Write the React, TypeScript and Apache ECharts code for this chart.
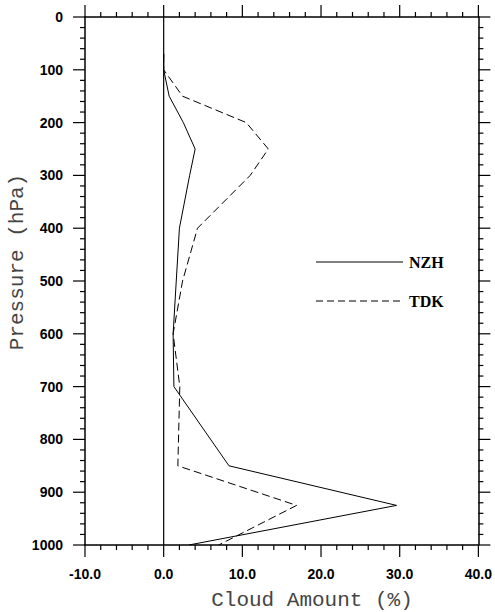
import React, { useEffect, useRef } from "react";
import * as echarts from "echarts";

const pressureLevels = [70, 100, 150, 200, 250, 300, 400, 500, 600, 700, 850, 925, 1000];
const nzhValues = [0, 0, 0.7, 2.5, 4.0, 3.3, 2.0, 1.6, 1.2, 1.3, 8.3, 29.6, 3.2];
const tdkValues = [0, 0, 2.4, 10.5, 13.3, 11.0, 4.3, 2.4, 1.2, 2.05, 1.8, 16.9, 7.0];
const zeroLineX = [0, 0];
const zeroLineP = [0, 1000];
const xMajorTicks = [-10, 0, 10, 20, 30, 40];
const yMajorTicks = [0, 100, 200, 300, 400, 500, 600, 700, 800, 900, 1000];
const seriesNames = ["NZH", "TDK"];
const xTitle = "Cloud Amount (%)";
const yTitle = "Pressure (hPa)";

export default function App() {
  const ref = useRef<HTMLDivElement>(null);
  useEffect(() => {
    if (!ref.current) return;
    const chart = echarts.init(ref.current, null, { renderer: "svg" });
    const al = { show: true, onZero: false, lineStyle: { color: "#000", width: 1.5 } };
    const lab = {
      color: "#000",
      fontFamily: "'Liberation Sans', Arial, sans-serif",
      fontWeight: "bold",
      fontSize: 14,
      margin: 22,
    };
    const mk = (xs: number[], ps: number[]) => xs.map((v, i) => [v, ps[i]]);
    const titleFont = "21px 'Liberation Mono', 'Courier New', monospace";
    const legendFont = "bold 16px 'Liberation Serif', 'Times New Roman', serif";

    // tick marks (major + minor, 5 subdivisions) built from the axis tick values
    const tickData: number[][] = [];
    for (let i = 0; i < xMajorTicks.length; i++) {
      tickData.push([xMajorTicks[i], 0, 0, 1]);
      if (i < xMajorTicks.length - 1) {
        const step = (xMajorTicks[i + 1] - xMajorTicks[i]) / 5;
        for (let k = 1; k < 5; k++) tickData.push([xMajorTicks[i] + k * step, 0, 0, 0]);
      }
    }
    for (let i = 0; i < yMajorTicks.length; i++) {
      tickData.push([-10, yMajorTicks[i], 1, 1]);
      if (i < yMajorTicks.length - 1) {
        const step = (yMajorTicks[i + 1] - yMajorTicks[i]) / 5;
        for (let k = 1; k < 5; k++) tickData.push([-10, yMajorTicks[i] + k * step, 1, 0]);
      }
    }

    const tickStyle = { stroke: "#000", lineWidth: 1.2 };
    const renderTick = (params: any, api: any) => {
      const cs = params.coordSys;
      const left = cs.x, top = cs.y, right = cs.x + cs.width, bottom = cs.y + cs.height;
      const isY = api.value(2) === 1;
      const len = api.value(3) === 1 ? 12 : 5;
      if (!isY) {
        const px = api.coord([api.value(0), 0])[0];
        return {
          type: "group",
          children: [
            { type: "line", shape: { x1: px, y1: bottom, x2: px, y2: bottom + len }, style: tickStyle },
            { type: "line", shape: { x1: px, y1: top, x2: px, y2: top - len }, style: tickStyle },
          ],
        };
      }
      const py = api.coord([-10, api.value(1)])[1];
      return {
        type: "group",
        children: [
          { type: "line", shape: { x1: left, y1: py, x2: left - len, y2: py }, style: tickStyle },
          { type: "line", shape: { x1: right, y1: py, x2: right + len, y2: py }, style: tickStyle },
        ],
      };
    };

    chart.setOption({
      animation: false,
      backgroundColor: "#fff",
      grid: { left: 85, right: 14, top: 17, bottom: 67 },
      xAxis: [
        { type: "value", min: -10, max: 40, interval: 10, position: "bottom", splitLine: { show: false }, axisLine: al,
          axisTick: { show: false },
          axisLabel: { ...lab, formatter: (v: number) => v.toFixed(1) } },
        { type: "value", min: -10, max: 40, interval: 10, position: "top", splitLine: { show: false }, axisLine: al,
          axisTick: { show: false }, axisLabel: { show: false } },
      ],
      yAxis: [
        { type: "value", min: 0, max: 1000, interval: 100, inverse: true, position: "left", splitLine: { show: false }, axisLine: al,
          axisTick: { show: false },
          axisLabel: { ...lab, formatter: (v: number) => String(v) } },
        { type: "value", min: 0, max: 1000, interval: 100, inverse: true, position: "right", splitLine: { show: false }, axisLine: al,
          axisTick: { show: false }, axisLabel: { show: false } },
      ],
      series: [
        { type: "custom", silent: true, clip: false, xAxisIndex: 0, yAxisIndex: 0,
          encode: { x: 0, y: 1 }, renderItem: renderTick, data: tickData, z: 5 },
        { type: "line", showSymbol: false, symbol: "none", silent: true,
          lineStyle: { color: "#000", width: 1.2 }, data: mk(zeroLineX, zeroLineP) },
        { name: seriesNames[0], type: "line", showSymbol: false, symbol: "none",
          lineStyle: { color: "#000", width: 1, type: "solid" }, data: mk(nzhValues, pressureLevels) },
        { name: seriesNames[1], type: "line", showSymbol: false, symbol: "none",
          lineStyle: { color: "#000", width: 1, type: [8, 4] }, data: mk(tdkValues, pressureLevels) },
      ],
      graphic: [
        { type: "line", shape: { x1: 316, y1: 262, x2: 403, y2: 262 }, style: { stroke: "#000", lineWidth: 1 } },
        { type: "text", x: 409, y: 262,
          style: { text: seriesNames[0], fill: "#000", font: legendFont, verticalAlign: "middle", textVerticalAlign: "middle" } },
        { type: "line", shape: { x1: 316, y1: 301, x2: 403, y2: 301 }, style: { stroke: "#000", lineWidth: 1, lineDash: [7, 4] } },
        { type: "text", x: 409, y: 301,
          style: { text: seriesNames[1], fill: "#000", font: legendFont, verticalAlign: "middle", textVerticalAlign: "middle" } },
        { type: "text", x: 312, y: 600,
          style: { text: xTitle, fill: "#444", font: titleFont, align: "center", verticalAlign: "middle",
            textAlign: "center", textVerticalAlign: "middle" } },
        { type: "text", x: 17, y: 262, rotation: Math.PI / 2,
          style: { text: yTitle, fill: "#444", font: titleFont, align: "center", verticalAlign: "middle",
            textAlign: "center", textVerticalAlign: "middle" } },
      ],
    });
    return () => chart.dispose();
  }, []);
  return <div ref={ref} style={{ width: 495, height: 612, position: "absolute", left: 0, top: 0 }} />;
}
